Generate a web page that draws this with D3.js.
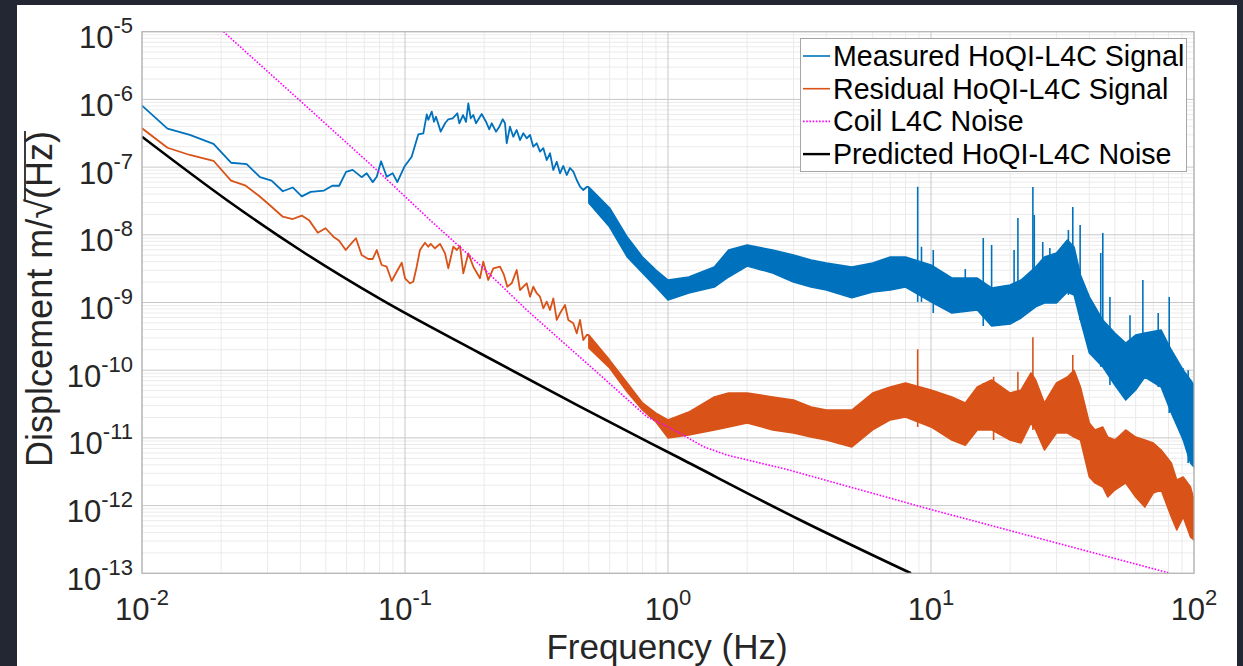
<!DOCTYPE html>
<html>
<head>
<meta charset="utf-8">
<script src="https://cdn.jsdelivr.net/npm/d3@7"></script>
<style>
  body { margin: 0; background: #222733; }
  svg { display: block; font-family: "Liberation Sans", Arial, sans-serif; }
</style>
</head>
<body>
<script>

// ---- data ----
// measured signal, low frequency part (single trace)
var measLowF = [0.01, 0.0125, 0.0152, 0.0187, 0.0218, 0.025, 0.0281, 0.0311, 0.0343, 0.0374,
    0.0405, 0.0438, 0.0492, 0.0529, 0.0562, 0.0597, 0.0632, 0.0684, 0.0715, 0.0754,
    0.0781, 0.0811, 0.0852, 0.0898, 0.0935, 0.0994, 0.106, 0.1124, 0.1174, 0.121,
    0.1226, 0.1264, 0.1289, 0.1312, 0.1367, 0.142, 0.1461, 0.1518, 0.1581, 0.1609,
    0.1662, 0.1706, 0.1741, 0.1778, 0.1819, 0.1862, 0.1957, 0.2032, 0.2092, 0.2136,
    0.2218, 0.2284, 0.2352, 0.24, 0.2436, 0.2507, 0.2581, 0.2659, 0.2737, 0.2818,
    0.2902, 0.2988, 0.3075, 0.3168, 0.3261, 0.3357, 0.3458, 0.3559, 0.3664, 0.3775,
    0.3885, 0.3999, 0.412, 0.4241, 0.4365, 0.4498, 0.4629, 0.4764, 0.4909];
var measLowV = [8.1e-7, 3.7e-7, 3.0e-7, 2.2e-7, 1.16e-7, 1.11e-7, 7.1e-8, 6.3e-8, 4.4e-8, 5.0e-8,
    3.7e-8, 4.3e-8, 4.5e-8, 5.3e-8, 5.3e-8, 8.5e-8, 9.1e-8, 7.1e-8, 8.1e-8, 6.0e-8,
    7.2e-8, 1.22e-7, 7.2e-8, 8.1e-8, 6.0e-8, 1.01e-7, 1.42e-7, 3.05e-7, 3.15e-7, 6.0e-7,
    5.0e-7, 6.6e-7, 4.68e-7, 5.55e-7, 3.34e-7, 4.44e-7, 5.09e-7, 5.26e-7, 6.23e-7, 4.44e-7,
    5.88e-7, 4.64e-7, 8.75e-7, 5.26e-7, 5.88e-7, 4.44e-7, 6.09e-7, 4.68e-7, 3.62e-7, 4.44e-7,
    3.34e-7, 3.95e-7, 5.09e-7, 4.44e-7, 2.25e-7, 3.95e-7, 2.81e-7, 3.54e-7, 2.51e-7, 3.16e-7,
    2.66e-7, 2.98e-7, 2.0e-7, 2.25e-7, 1.69e-7, 1.9e-7, 1.27e-7, 1.6e-7, 9.07e-8, 1.2e-7,
    8.1e-8, 1.04e-7, 7.64e-8, 9.7e-8, 8.56e-8, 6.45e-8, 5.13e-8, 4.59e-8, 5.09e-8];

// measured signal above 0.5 Hz: noise band (upper / lower edge)
var measBandF = [0.5, 0.6, 0.7, 0.8, 0.9, 1.0, 1.2, 1.5, 1.7, 2,
    2.5, 3, 3.5, 4, 5, 6, 7, 8, 10, 12,
    15, 17, 20, 22, 25, 27, 30, 33, 35, 37,
    40, 45, 50, 55, 60, 65, 75, 82, 91, 97, 100];
var measBandHi = [5.09e-8, 2.49e-8, 9.27e-9, 4.7e-9, 3.02e-9, 2.15e-9, 2.38e-9, 3.35e-9, 5.96e-9, 7.07e-9,
    5.96e-9, 5.03e-9, 4.24e-9, 3.83e-9, 3.35e-9, 3.83e-9, 4.7e-9, 4.7e-9, 3.58e-9, 2.3e-9,
    2.3e-9, 1.64e-9, 1.81e-9, 2.15e-9, 3.35e-9, 4.7e-9, 5.38e-9, 8.37e-9, 6.6e-9, 2.55e-9,
    1.21e-9, 5.5e-10, 3.54e-10, 2.52e-10, 3.31e-10, 3.54e-10, 3.92e-10, 1.99e-10, 1.0e-10, 7.17e-11, 6.05e-11];
var measBandLo = [2.95e-8, 1.3e-8, 4.7e-9, 2.73e-9, 1.69e-9, 1.09e-9, 1.38e-9, 1.69e-9, 2.38e-9, 3.46e-9,
    2.73e-9, 2.01e-9, 1.69e-9, 1.53e-9, 1.17e-9, 1.43e-9, 1.53e-9, 1.69e-9, 1.02e-9, 7.0e-10,
    7.75e-10, 4.5e-10, 4.81e-10, 5.9e-10, 8.6e-10, 9.8e-10, 9.8e-10, 1.43e-9, 1.29e-9, 5.5e-10,
    1.79e-10, 1.12e-10, 6.05e-11, 3.63e-11, 5.1e-11, 7.93e-11, 5.64e-11, 2.33e-11, 9.3e-12, 4.26e-12, 3.72e-12];
var measSpikeF = [8.9, 9.2, 10.2, 13.5, 15.8, 17.0, 20.7, 21.4, 24.4, 24.7, 26.6, 28.3,
    33.3, 34.6, 36.9, 44.2, 45.0, 47.9, 57.1, 63.9, 73.1, 80.5, 90.8, 95];
var measSpikeV = [5.13e-8, 6.67e-9, 5.96e-9, 3.12e-9, 8.97e-9, 7.07e-9, 5.96e-9, 1.77e-8, 5.08e-8, 1.96e-8, 7.83e-9, 6.38e-9,
    1.18e-8, 2.58e-8, 1.4e-8, 5.38e-9, 1.06e-8, 1.21e-9, 6.5e-10, 2.15e-9, 7.0e-10, 1.21e-9, 1.08e-10, 1.0e-10];

// residual signal
var resLowF = [0.01, 0.0125, 0.0152, 0.0187, 0.0218, 0.0248, 0.0279, 0.0311, 0.0343, 0.0374,
    0.0405, 0.0433, 0.0466, 0.0499, 0.0534, 0.0562, 0.0595, 0.0623, 0.0651, 0.0684,
    0.0725, 0.0754, 0.0781, 0.0815, 0.0852, 0.089, 0.093, 0.0972, 0.1, 0.1045,
    0.1075, 0.1108, 0.114, 0.1191, 0.1226, 0.1252, 0.13, 0.1359, 0.142, 0.1461,
    0.1526, 0.1573, 0.1619, 0.1666, 0.1741, 0.1819, 0.1928, 0.1985, 0.2073, 0.2167,
    0.2298, 0.2379, 0.2449, 0.2545, 0.2659, 0.2737, 0.2902, 0.2988, 0.3075, 0.3168,
    0.3261, 0.3357, 0.3458, 0.3559, 0.3664, 0.3775, 0.3885, 0.4059, 0.4178, 0.4365,
    0.4498, 0.4629, 0.4764, 0.4909];
var resLowV = [3.74e-7, 1.93e-7, 1.51e-7, 1.24e-7, 6.3e-8, 5.31e-8, 3.74e-8, 2.6e-8, 1.85e-8, 1.71e-8,
    1.92e-8, 1.62e-8, 1.07e-8, 1.25e-8, 9.37e-9, 8.17e-9, 5.96e-9, 7.33e-9, 8.89e-9, 5.03e-9,
    4.39e-9, 4.39e-9, 5.96e-9, 3.58e-9, 3.38e-9, 2.08e-9, 2.85e-9, 3.87e-9, 2.28e-9, 1.92e-9,
    2.03e-9, 3.38e-9, 5.96e-9, 7.64e-9, 6.67e-9, 7.33e-9, 6.32e-9, 7.33e-9, 5.33e-9, 3.2e-9,
    6.67e-9, 5.96e-9, 6.83e-9, 2.7e-9, 5.33e-9, 3.38e-9, 2.28e-9, 4.01e-9, 2.15e-9, 3.2e-9,
    3.38e-9, 2.55e-9, 1.71e-9, 1.92e-9, 3.02e-9, 1.53e-9, 1.92e-9, 1.22e-9, 1.71e-9, 1.37e-9,
    1.22e-9, 8.2e-10, 1.03e-9, 7.75e-10, 1.15e-9, 5.52e-10, 6.93e-10, 9.18e-10, 5.52e-10, 4.93e-10,
    3.51e-10, 5.52e-10, 2.79e-10, 3.31e-10];
var resBandF = [0.5, 0.6, 0.7, 0.8, 0.9, 1.0, 1.2, 1.5, 1.7, 2,
    2.5, 3, 3.5, 4, 5, 6, 7, 8, 10, 12,
    13.5, 15, 17, 20, 22, 24, 25, 27, 30, 33,
    35, 37, 40, 42, 45, 47, 50, 55, 60, 65,
    70, 75, 82, 86, 91, 97, 100];
var resBandHi = [3.31e-10, 1.41e-10, 6.47e-11, 3.28e-11, 2.33e-11, 1.84e-11, 2.41e-11, 4.03e-11, 4.6e-11, 4.6e-11,
    4.03e-11, 3.63e-11, 2.86e-11, 2.58e-11, 2.58e-11, 4.6e-11, 5.64e-11, 6.47e-11, 5.1e-11, 4.03e-11,
    3.28e-11, 5.64e-11, 7.17e-11, 4.6e-11, 5.1e-11, 9.1e-11, 7.17e-11, 3.28e-11, 6.47e-11, 7.93e-11,
    1.0e-10, 5.64e-11, 1.66e-11, 1.31e-11, 1.45e-11, 1.03e-11, 9.3e-12, 1.31e-11, 1.03e-11, 9.3e-12,
    8.4e-12, 6.63e-12, 4.26e-12, 2.39e-12, 2.64e-12, 1.88e-12, 1.21e-12];
var resBandLo = [2.13e-10, 1.08e-10, 4.77e-11, 2.58e-11, 1.72e-11, 1.0e-11, 1.1e-11, 1.31e-11, 1.45e-11, 1.66e-11,
    1.31e-11, 1.18e-11, 1.03e-11, 9.3e-12, 7.35e-12, 1.31e-11, 1.84e-11, 2.04e-11, 1.45e-11, 9.3e-12,
    7.8e-12, 1.31e-11, 1.31e-11, 9.3e-12, 8.4e-12, 1.66e-11, 1.31e-11, 6.63e-12, 1.18e-11, 1.18e-11,
    1.03e-11, 9.3e-12, 2.64e-12, 2.16e-12, 1.88e-12, 1.34e-12, 1.7e-12, 2.16e-12, 1.34e-12, 9.5e-13,
    1.53e-12, 1.7e-12, 6.8e-13, 4.36e-13, 6.8e-13, 3.43e-13, 3.1e-13];
var resSpikeF = [8.9, 15.8, 17.3, 21.4, 24.4, 34.6];
var resSpikeV = [2.04e-10, 6.47e-11, 8.0e-11, 9.5e-11, 3.06e-10, 1.68e-10];

// coil L4C noise
var coilF = [0.0204, 0.0399, 0.0804, 0.1245, 0.1928, 0.2902, 0.5513, 0.83, 1.0, 1.111, 1.362, 1.672, 2.827, 10, 79.8];
var coilV = [1e-5, 9.57e-7, 8.17e-8, 1.65e-8, 3.58e-9, 7.75e-10, 8.5e-11, 2.06e-11, 1.45e-11, 1.17e-11, 7.43e-12, 5.59e-12, 3.43e-12, 8.75e-13, 1.02e-13];

// predicted HoQI-L4C noise
var predF = [0.01, 0.021, 0.0399, 0.0804, 0.1928, 0.4629, 1.111, 3.178, 8.39];
var predV = [2.81e-7, 3.27e-8, 5.96e-9, 1.13e-9, 1.78e-10, 2.89e-11, 5.0e-12, 6.13e-13, 1.0e-13];

var xDecades = [-2, -1, 0, 1, 2];
var yDecades = [-13, -12, -11, -10, -9, -8, -7, -6, -5];
var legendNames = ["Measured HoQI-L4C Signal", "Residual HoQI-L4C Signal", "Coil L4C Noise", "Predicted HoQI-L4C Noise"];
var colors = ["#0072BD", "#D95319", "#FF00FF", "#000000"];

// ---- drawing ----
var w = 1243, h = 666;
var pLeft = 142, pRight = 1194, pTop = 31.7, pBottom = 573.3;

var svg = d3.select("body").append("svg")
    .attr("width", w)
    .attr("height", h);

svg.append("rect")
    .attr("x", 17).attr("y", 5)
    .attr("width", 1220).attr("height", 661)
    .attr("fill", "white");

var xScale = d3.scaleLog().domain([0.01, 100]).range([pLeft, pRight]);
var yScale = d3.scaleLog().domain([1e-13, 1e-5]).range([pBottom, pTop]);

// grid, minor first
var minorX = [], minorY = [];
xDecades.slice(0, -1).forEach(function(k) {
    for (var m = 2; m <= 9; m++) minorX.push(m * Math.pow(10, k));
});
yDecades.slice(0, -1).forEach(function(k) {
    for (var m = 2; m <= 9; m++) minorY.push(m * Math.pow(10, k));
});

var grid = svg.append("g");
grid.selectAll(".mx").data(minorX).enter().append("line")
    .attr("x1", function(d) { return xScale(d); })
    .attr("x2", function(d) { return xScale(d); })
    .attr("y1", pTop).attr("y2", pBottom)
    .attr("stroke", "#ebebeb");
grid.selectAll(".my").data(minorY).enter().append("line")
    .attr("y1", function(d) { return yScale(d); })
    .attr("y2", function(d) { return yScale(d); })
    .attr("x1", pLeft).attr("x2", pRight)
    .attr("stroke", "#ebebeb");
grid.selectAll(".gx").data(xDecades).enter().append("line")
    .attr("x1", function(d) { return xScale(Math.pow(10, d)); })
    .attr("x2", function(d) { return xScale(Math.pow(10, d)); })
    .attr("y1", pTop).attr("y2", pBottom)
    .attr("stroke", "#c8c8c8");
grid.selectAll(".gy").data(yDecades).enter().append("line")
    .attr("y1", function(d) { return yScale(Math.pow(10, d)); })
    .attr("y2", function(d) { return yScale(Math.pow(10, d)); })
    .attr("x1", pLeft).attr("x2", pRight)
    .attr("stroke", "#c8c8c8");

svg.append("clipPath").attr("id", "plotclip")
    .append("rect")
    .attr("x", pLeft).attr("y", pTop)
    .attr("width", pRight - pLeft).attr("height", pBottom - pTop);

var plot = svg.append("g").attr("clip-path", "url(#plotclip)");

var line = d3.line()
    .x(function(d) { return xScale(d[0]); })
    .y(function(d) { return yScale(d[1]); });

var band = d3.area()
    .x(function(d) { return xScale(d[0]); })
    .y0(function(d) { return yScale(d[1]); })
    .y1(function(d) { return yScale(d[2]); });

function pairs(f, v) {
    return f.map(function(d, i) { return [d, v[i]]; });
}

function drawSignal(lowF, lowV, bandF, bandLo, bandHi, spikeF, spikeV, color) {
    var low = pairs(lowF, lowV);
    var bandData = bandF.map(function(d, i) { return [d, bandLo[i], bandHi[i]]; });
    // join the single trace onto the top of the band
    low.push([bandF[0], bandHi[0]]);

    plot.append("path")
        .attr("d", line(low))
        .attr("fill", "none")
        .attr("stroke", color)
        .attr("stroke-width", 1.8)
        .attr("stroke-linejoin", "round");

    plot.append("path")
        .attr("d", band(bandData))
        .attr("fill", color)
        .attr("stroke", color)
        .attr("stroke-width", 1.5)
        .attr("stroke-linejoin", "round");

    var bis = d3.bisector(function(d) { return d; }).left;
    plot.selectAll(null)
        .data(pairs(spikeF, spikeV))
        .enter()
        .append("line")
        .attr("x1", function(d) { return xScale(d[0]); })
        .attr("x2", function(d) { return xScale(d[0]); })
        .attr("y1", function(d) { return yScale(d[1]); })
        .attr("y2", function(d) {
            var i = Math.min(bis(bandF, d[0]), bandF.length - 1);
            return yScale(bandLo[i]);
        })
        .attr("stroke", color)
        .attr("stroke-width", 1.6);
}

drawSignal(measLowF, measLowV, measBandF, measBandLo, measBandHi, measSpikeF, measSpikeV, colors[0]);
drawSignal(resLowF, resLowV, resBandF, resBandLo, resBandHi, resSpikeF, resSpikeV, colors[1]);

plot.append("path")
    .attr("d", line(pairs(coilF, coilV)))
    .attr("fill", "none")
    .attr("stroke", colors[2])
    .attr("stroke-width", 1.6)
    .attr("stroke-dasharray", "1.6,1.6");

plot.append("path")
    .attr("d", line.curve(d3.curveMonotoneX)(pairs(predF, predV)))
    .attr("fill", "none")
    .attr("stroke", colors[3])
    .attr("stroke-width", 2.6);

// axes box
svg.append("rect")
    .attr("x", pLeft).attr("y", pTop)
    .attr("width", pRight - pLeft).attr("height", pBottom - pTop)
    .attr("fill", "none")
    .attr("stroke", "#b5b5b5")
    .attr("stroke-width", 1.2);

// tick labels: 10 with superscript exponent
var xt = svg.append("g").selectAll("text")
    .data(xDecades).enter().append("text")
    .attr("x", function(d) { return xScale(Math.pow(10, d)); })
    .attr("y", 620)
    .attr("text-anchor", "middle")
    .attr("fill", "#262626")
    .attr("font-size", 31);
xt.append("tspan").text("10");
xt.append("tspan").attr("dy", -15).attr("font-size", 22).text(function(d) { return d; });

var yt = svg.append("g").selectAll("text")
    .data(yDecades).enter().append("text")
    .attr("x", 133)
    .attr("y", function(d) { return yScale(Math.pow(10, d)) + 16.5; })
    .attr("text-anchor", "end")
    .attr("fill", "#262626")
    .attr("font-size", 31);
yt.append("tspan").text("10");
yt.append("tspan").attr("dy", -15).attr("font-size", 22).text(function(d) { return d; });

// axis labels
svg.append("text")
    .attr("x", 667).attr("y", 659)
    .attr("text-anchor", "middle")
    .attr("fill", "#262626")
    .attr("font-size", 35)
    .text("Frequency (Hz)");

var ylg = svg.append("g").attr("transform", "translate(52,299) rotate(-90)");
var yl = ylg.append("text")
    .attr("text-anchor", "middle")
    .attr("fill", "#262626")
    .attr("font-size", 36);
yl.append("tspan").text("Displcement m/\u221A");
var hz = yl.append("tspan").text("(Hz)");
// bar of the square root over (Hz)
var total = yl.node().getComputedTextLength();
var hzLen = hz.node().getComputedTextLength();
ylg.append("line")
    .attr("x1", total / 2 - hzLen - 1).attr("x2", total / 2)
    .attr("y1", -27).attr("y2", -27)
    .attr("stroke", "#262626")
    .attr("stroke-width", 1.8);

// legend
var lg = svg.append("g");
lg.append("rect")
    .attr("x", 800.5).attr("y", 38.5)
    .attr("width", 386).attr("height", 133)
    .attr("fill", "white")
    .attr("stroke", "#a6a6a6");

var items = lg.selectAll("g.item")
    .data(legendNames).enter().append("g")
    .attr("transform", function(d, i) { return "translate(0," + (56 + i * 32.7) + ")"; });
items.append("line")
    .attr("x1", 803).attr("x2", 830)
    .attr("stroke", function(d, i) { return colors[i]; })
    .attr("stroke-width", function(d, i) { return i == 3 ? 2.4 : 1.6; })
    .attr("stroke-dasharray", function(d, i) { return i == 2 ? "1.6,1.6" : null; });
items.append("text")
    .attr("x", 833).attr("y", 10)
    .attr("fill", "#000")
    .attr("font-size", 28.6)
    .text(function(d) { return d; });

</script>
</body>
</html>
